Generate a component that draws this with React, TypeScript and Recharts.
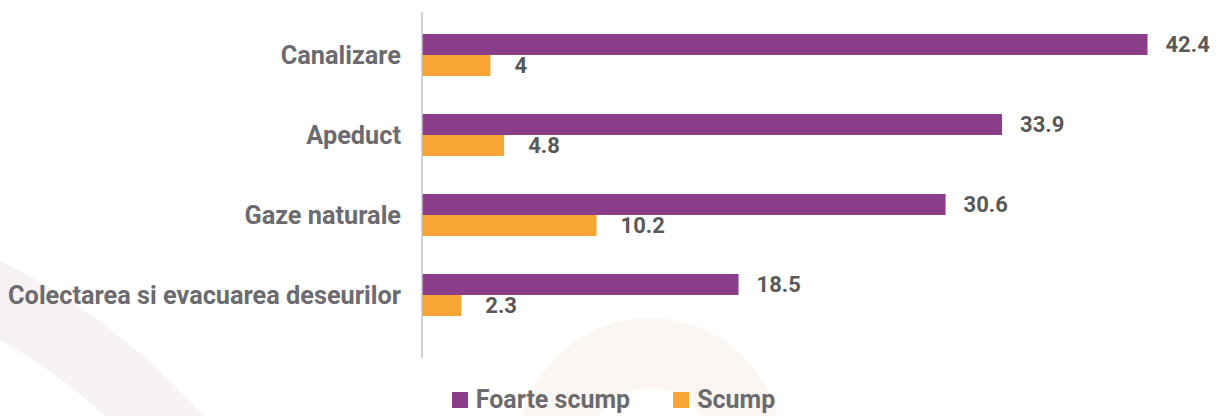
import React from 'react';
import { BarChart, Bar, XAxis, YAxis, LabelList, Legend } from 'recharts';

const categories = ['Canalizare', 'Apeduct', 'Gaze naturale', 'Colectarea si evacuarea deseurilor'];
const foarteScump = [42.4, 33.9, 30.6, 18.5];
const scump = [4, 4.8, 10.2, 2.3];
const seriesNames = ['Foarte scump', 'Scump'];

const PURPLE = '#8B3F8A';
const ORANGE = '#F9A533';
const FONT = 'Roboto, "Noto Sans", sans-serif';

const data = categories.map((c, i) => ({ name: c, fs: foarteScump[i], s: scump[i] }));

const LegendContent = (props: any) => {
  const payload = props.payload || [];
  return (
    <div style={{ height: 58, display: 'flex', justifyContent: 'center', alignItems: 'flex-start', paddingTop: 28, paddingLeft: 35, boxSizing: 'border-box', fontFamily: FONT }}>
      {payload.map((p: any, i: number) => (
        <div key={i} style={{ display: 'flex', alignItems: 'center', marginRight: i === payload.length - 1 ? 0 : 43 }}>
          <div style={{ width: 16, height: 16, background: p.color, marginRight: 8 }} />
          <span style={{ fontSize: 25, fontWeight: 700, color: '#6b6b70', lineHeight: '28px' }}>{p.value}</span>
        </div>
      ))}
    </div>
  );
};

export default function App() {
  return (
    <div style={{ position: 'absolute', left: 0, top: 0, width: 1222, height: 416, background: '#fff', overflow: 'hidden' }}>
      <svg width={1222} height={416} style={{ position: 'absolute', left: 0, top: 0 }}>
        <circle cx={-294} cy={856} r={629} fill="none" stroke="#f7f3f3" strokeWidth={70} />
        <circle cx={650} cy={450} r={97} fill="none" stroke="#fbf6f2" strokeWidth={70} />
      </svg>
      <div style={{ position: 'absolute', left: 0, top: 0 }}>
        <BarChart
          width={1222}
          height={416}
          data={data}
          layout="vertical"
          margin={{ top: 12, right: 30, bottom: 0, left: 0 }}
          barGap={0}
        >
          <XAxis type="number" domain={[0, 45]} hide />
          <YAxis
            type="category"
            dataKey="name"
            width={422}
            padding={{ top: 3, bottom: 23 }}
            axisLine={{ stroke: '#c4c4c4', strokeWidth: 1.5 }}
            tickLine={false}
            tickSize={0}
            tickMargin={21}
            tick={{ fontSize: 25.3, fontWeight: 700, fill: '#6b6b70', fontFamily: FONT }}
          />
          <Legend verticalAlign="bottom" align="center" content={<LegendContent />} />
          <Bar dataKey="fs" name={seriesNames[0]} fill={PURPLE} barSize={21} isAnimationActive={false}>
            <LabelList dataKey="fs" position="right" offset={18} style={{ fontSize: 22, fontWeight: 700, fill: '#595959', fontFamily: FONT }} />
          </Bar>
          <Bar dataKey="s" name={seriesNames[1]} fill={ORANGE} barSize={21} isAnimationActive={false}>
            <LabelList dataKey="s" position="right" offset={24} style={{ fontSize: 22, fontWeight: 700, fill: '#595959', fontFamily: FONT }} />
          </Bar>
        </BarChart>
      </div>
    </div>
  );
}
